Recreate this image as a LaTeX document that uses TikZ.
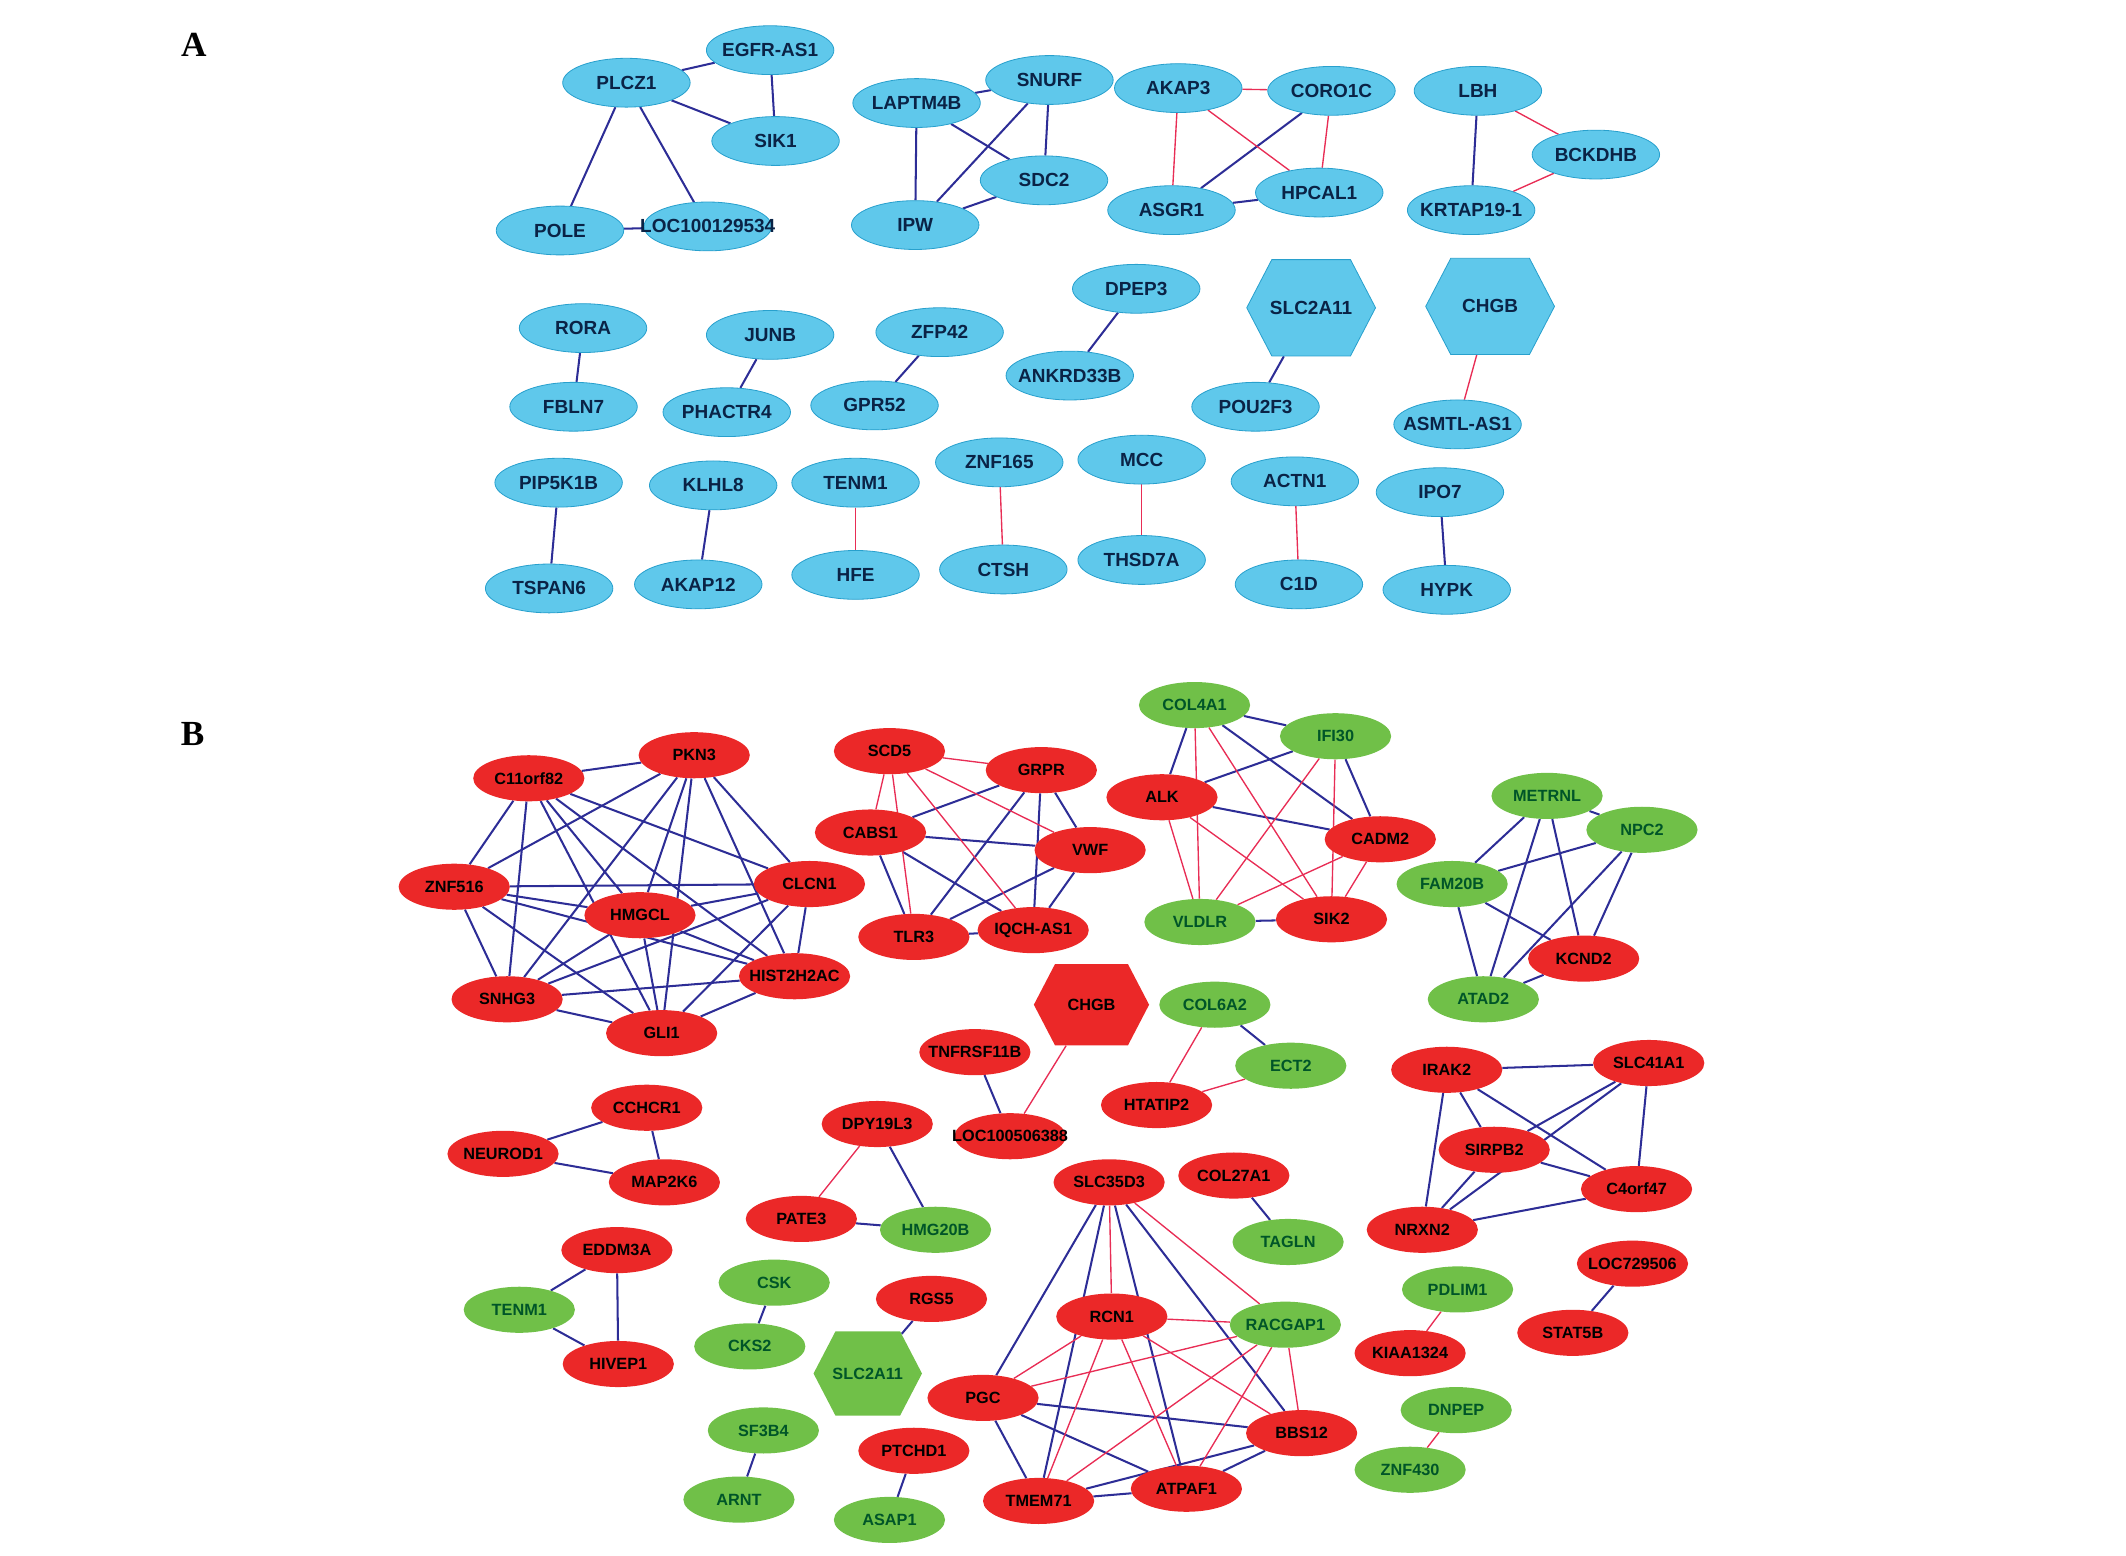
\documentclass[tikz,border=0pt]{standalone}
\usepackage{fontspec}
\setmainfont{Liberation Sans}
\newfontfamily\panelfont{Liberation Serif}
\usetikzlibrary{shapes.geometric,shapes.symbols,backgrounds}

\definecolor{skyfill}{RGB}{95,200,235}
\definecolor{skyline}{RGB}{40,160,205}
\definecolor{skytext}{RGB}{10,35,70}
\definecolor{upfill}{RGB}{235,40,40}
\definecolor{downfill}{RGB}{112,192,72}
\definecolor{downtext}{RGB}{0,85,40}
\definecolor{linkblue}{RGB}{45,45,150}
\definecolor{linkred}{RGB}{232,45,85}

\begin{document}
\begin{tikzpicture}[x=1pt,y=-1pt,
  flat/.style={inner sep=0pt,
    execute at begin node={\hbox to 0pt\bgroup\hss},
    execute at end node={\hss\egroup}},
  gA/.style={flat, ellipse, fill=skyfill, draw=skyline, line width=0.6pt,
    minimum width=94, minimum height=36, text=skytext,
    font=\bfseries\fontsize{14}{14}\selectfont},
  hexA/.style={flat, signal, signal to=west and east, signal pointer angle=125,
    fill=skyfill, draw=skyline, line width=0.6pt, minimum width=95, minimum height=71,
    text=skytext, font=\bfseries\fontsize{14}{14}\selectfont},
  gup/.style={flat, ellipse, fill=upfill, minimum width=82, minimum height=34,
    text=black, font=\bfseries\fontsize{12}{12}\selectfont},
  gdown/.style={gup, fill=downfill, text=downtext},
  hexup/.style={flat, signal, signal to=west and east, signal pointer angle=125,
    fill=upfill, minimum width=85, minimum height=60,
    font=\bfseries\fontsize{12}{12}\selectfont},
  hexdown/.style={hexup, fill=downfill, text=downtext, minimum width=80, minimum height=62},
  bl/.style={draw=linkblue, line width=1.5pt},
  rd/.style={draw=linkred, line width=1pt},
  panel/.style={font=\panelfont\bfseries\fontsize{26}{26}\selectfont}
]
\useasboundingbox (0,0) rectangle (1568,1147);

\node[panel] (lblA) at (143,33) {A};
\node[panel] (lblB) at (142,541) {B};

% panel A
\node[gA] (plcz1) at (462,61) {PLCZ1};
\node[gA] (egfras1) at (568,37) {EGFR-AS1};
\node[gA] (sik1) at (572,104) {SIK1};
\node[gA] (pole) at (413,170) {POLE};
\node[gA] (loc534) at (522,167) {LOC100129534};
\node[gA] (laptm4b) at (676,76) {LAPTM4B};
\node[gA] (snurf) at (774,59) {SNURF};
\node[gA] (sdc2) at (770,133) {SDC2};
\node[gA] (ipw) at (675,166) {IPW};
\node[gA] (akap3) at (869,65) {AKAP3};
\node[gA] (coro1c) at (982,67) {CORO1C};
\node[gA] (asgr1) at (864,155) {ASGR1};
\node[gA] (hpcal1) at (973,142) {HPCAL1};
\node[gA] (lbh) at (1090,67) {LBH};
\node[gA] (bckdhb) at (1177,114) {BCKDHB};
\node[gA] (krtap) at (1085,155) {KRTAP19-1};

\node[gA] (rora) at (430,242) {RORA};
\node[gA] (fbln7) at (423,300) {FBLN7};
\node[gA] (junb) at (568,247) {JUNB};
\node[gA] (phactr4) at (536,304) {PHACTR4};
\node[gA] (zfp42) at (693,245) {ZFP42};
\node[gA] (gpr52) at (645,299) {GPR52};
\node[gA] (dpep3) at (838,213) {DPEP3};
\node[gA] (ankrd) at (789,277) {ANKRD33B};
\node[hexA] (slcA) at (967,227) {SLC2A11};
\node[gA] (pou2f3) at (926,300) {POU2F3};
\node[hexA] (chgbA) at (1099,226) {CHGB};
\node[gA] (asmtl) at (1075,313) {ASMTL-AS1};

\node[gA] (pip5k1b) at (412,356) {PIP5K1B};
\node[gA] (tspan6) at (405,434) {TSPAN6};
\node[gA] (klhl8) at (526,358) {KLHL8};
\node[gA] (akap12) at (515,431) {AKAP12};
\node[gA] (tenmA) at (631,356) {TENM1};
\node[gA] (hfe) at (631,424) {HFE};
\node[gA] (znf165) at (737,341) {ZNF165};
\node[gA] (ctsh) at (740,420) {CTSH};
\node[gA] (mcc) at (842,339) {MCC};
\node[gA] (thsd7a) at (842,413) {THSD7A};
\node[gA] (actn1) at (955,355) {ACTN1};
\node[gA] (c1d) at (958,431) {C1D};
\node[gA] (ipo7) at (1062,363) {IPO7};
\node[gA] (hypk) at (1067,435) {HYPK};

% panel B
\node[gup] (c11) at (390,574) {C11orf82};
\node[gup] (pkn3) at (512,557) {PKN3};
\node[gup] (znf516) at (335,654) {ZNF516};
\node[gup] (hmgcl) at (472,675) {HMGCL};
\node[gup] (clcn1) at (597,652) {CLCN1};
\node[gup] (hist) at (586,720) {HIST2H2AC};
\node[gup] (snhg3) at (374,737) {SNHG3};
\node[gup] (gli1) at (488,762) {GLI1};

\node[gup] (scd5) at (656,554) {SCD5};
\node[gup] (grpr) at (768,568) {GRPR};
\node[gup] (cabs1) at (642,614) {CABS1};
\node[gup] (vwf) at (804,627) {VWF};
\node[gup] (tlr3) at (674,691) {TLR3};
\node[gup] (iqch) at (762,686) {IQCH-AS1};

\node[gdown] (col4a1) at (881,520) {COL4A1};
\node[gdown] (ifi30) at (985,543) {IFI30};
\node[gup] (alk) at (857,588) {ALK};
\node[gup] (cadm2) at (1018,619) {CADM2};
\node[gdown] (vldlr) at (885,680) {VLDLR};
\node[gup] (sik2) at (982,678) {SIK2};

\node[gdown] (metrnl) at (1141,587) {METRNL};
\node[gdown] (npc2) at (1211,612) {NPC2};
\node[gdown] (fam20b) at (1071,652) {FAM20B};
\node[gup] (kcnd2) at (1168,707) {KCND2};
\node[gdown] (atad2) at (1094,737) {ATAD2};

\node[hexup] (chgbB) at (805,741) {CHGB};
\node[gup] (tnfrsf) at (719,776) {TNFRSF11B};
\node[gup, text=black] (loc388) at (745,838) {LOC100506388};
\node[gdown] (col6a2) at (896,741) {COL6A2};
\node[gdown] (ect2) at (952,786) {ECT2};
\node[gup] (htatip2) at (853,815) {HTATIP2};

\node[gup] (irak2) at (1067,789) {IRAK2};
\node[gup] (slc41) at (1216,784) {SLC41A1};
\node[gup] (sirpb2) at (1102,848) {SIRPB2};
\node[gup] (c4orf) at (1207,877) {C4orf47};
\node[gup] (nrxn2) at (1049,907) {NRXN2};

\node[gup] (cchcr1) at (477,817) {CCHCR1};
\node[gup] (neurod1) at (371,851) {NEUROD1};
\node[gup] (map2k6) at (490,872) {MAP2K6};
\node[gup] (dpy) at (647,829) {DPY19L3};
\node[gup] (pate3) at (591,899) {PATE3};
\node[gdown] (hmg20b) at (690,907) {HMG20B};
\node[gup] (col27) at (910,867) {COL27A1};
\node[gdown] (tagln) at (950,916) {TAGLN};

\node[gup] (eddm3a) at (455,922) {EDDM3A};
\node[gdown] (tenmB) at (383,966) {TENM1};
\node[gup] (hivep1) at (456,1006) {HIVEP1};
\node[gdown] (csk) at (571,946) {CSK};
\node[gdown] (cks2) at (553,993) {CKS2};
\node[gup] (rgs5) at (687,958) {RGS5};
\node[hexdown] (slcB) at (640,1013) {SLC2A11};
\node[gdown] (sf3b4) at (563,1055) {SF3B4};
\node[gdown] (arnt) at (545,1106) {ARNT};
\node[gup] (ptchd1) at (674,1070) {PTCHD1};
\node[gdown] (asap1) at (656,1121) {ASAP1};

\node[gup] (slc35) at (818,872) {SLC35D3};
\node[gup] (rcn1) at (820,971) {RCN1};
\node[gdown] (racgap) at (948,977) {RACGAP1};
\node[gup] (pgc) at (725,1031) {PGC};
\node[gup] (bbs12) at (960,1057) {BBS12};
\node[gup] (tmem71) at (766,1107) {TMEM71};
\node[gup] (atpaf1) at (875,1098) {ATPAF1};

\node[gdown] (pdlim1) at (1075,951) {PDLIM1};
\node[gup] (kiaa) at (1040,998) {KIAA1324};
\node[gdown] (dnpep) at (1074,1040) {DNPEP};
\node[gdown] (znf430) at (1040,1084) {ZNF430};
\node[gup] (loc506) at (1204,932) {LOC729506};
\node[gup] (stat5b) at (1160,983) {STAT5B};

% links
\begin{scope}[on background layer]
  \foreach \u/\v in {plcz1/egfras1, plcz1/sik1, egfras1/sik1, plcz1/pole, plcz1/loc534, pole/loc534,
      laptm4b/snurf, laptm4b/ipw, laptm4b/sdc2, snurf/ipw, snurf/sdc2, sdc2/ipw,
      coro1c/asgr1, asgr1/hpcal1, lbh/krtap, rora/fbln7, junb/phactr4, zfp42/gpr52,
      dpep3/ankrd, slcA/pou2f3, pip5k1b/tspan6, klhl8/akap12, ipo7/hypk}
    \draw[bl] (\u) -- (\v);
  \foreach \u/\v in {akap3/coro1c, akap3/asgr1, akap3/hpcal1, coro1c/hpcal1, lbh/bckdhb, bckdhb/krtap,
      chgbA/asmtl, tenmA/hfe, znf165/ctsh, mcc/thsd7a, actn1/c1d}
    \draw[rd] (\u) -- (\v);

  \foreach \u/\v in {c11/pkn3, c11/znf516, c11/hmgcl, c11/clcn1, c11/hist, c11/snhg3, c11/gli1,
      pkn3/znf516, pkn3/hmgcl, pkn3/clcn1, pkn3/hist, pkn3/snhg3, pkn3/gli1,
      znf516/hmgcl, znf516/clcn1, znf516/hist, znf516/snhg3, znf516/gli1,
      hmgcl/clcn1, hmgcl/hist, hmgcl/snhg3, hmgcl/gli1,
      clcn1/hist, clcn1/snhg3, clcn1/gli1, hist/snhg3, hist/gli1, snhg3/gli1,
      grpr/cabs1, grpr/tlr3, grpr/iqch, grpr/vwf, cabs1/vwf, cabs1/iqch, cabs1/tlr3,
      vwf/tlr3, vwf/iqch, tlr3/iqch,
      col4a1/ifi30, col4a1/alk, col4a1/cadm2, ifi30/alk, ifi30/cadm2, alk/cadm2, vldlr/sik2,
      metrnl/npc2, metrnl/fam20b, metrnl/atad2, metrnl/kcnd2, npc2/fam20b, npc2/atad2,
      npc2/kcnd2, fam20b/atad2, fam20b/kcnd2, kcnd2/atad2,
      tnfrsf/loc388, col6a2/ect2,
      irak2/slc41, irak2/sirpb2, irak2/c4orf, irak2/nrxn2, slc41/sirpb2, slc41/nrxn2,
      slc41/c4orf, sirpb2/c4orf, sirpb2/nrxn2, c4orf/nrxn2,
      cchcr1/neurod1, cchcr1/map2k6, neurod1/map2k6, dpy/hmg20b, pate3/hmg20b, col27/tagln,
      eddm3a/tenmB, eddm3a/hivep1, tenmB/hivep1, csk/cks2, rgs5/slcB, sf3b4/arnt,
      ptchd1/asap1, loc506/stat5b,
      slc35/pgc, slc35/tmem71, slc35/atpaf1, slc35/bbs12, pgc/bbs12, pgc/atpaf1, pgc/tmem71,
      tmem71/atpaf1, tmem71/bbs12, atpaf1/bbs12}
    \draw[bl] (\u) -- (\v);
  \foreach \u/\v in {scd5/grpr, scd5/cabs1, scd5/tlr3, scd5/iqch, scd5/vwf,
      col4a1/vldlr, col4a1/sik2, ifi30/vldlr, ifi30/sik2, alk/vldlr, alk/sik2, cadm2/vldlr, cadm2/sik2,
      chgbB/loc388, col6a2/htatip2, ect2/htatip2, dpy/pate3, pdlim1/kiaa, dnpep/znf430,
      slc35/rcn1, slc35/racgap, rcn1/racgap, rcn1/pgc, rcn1/tmem71, rcn1/atpaf1, rcn1/bbs12,
      racgap/pgc, racgap/tmem71, racgap/atpaf1, racgap/bbs12}
    \draw[rd] (\u) -- (\v);
\end{scope}
\end{tikzpicture}
\end{document}
